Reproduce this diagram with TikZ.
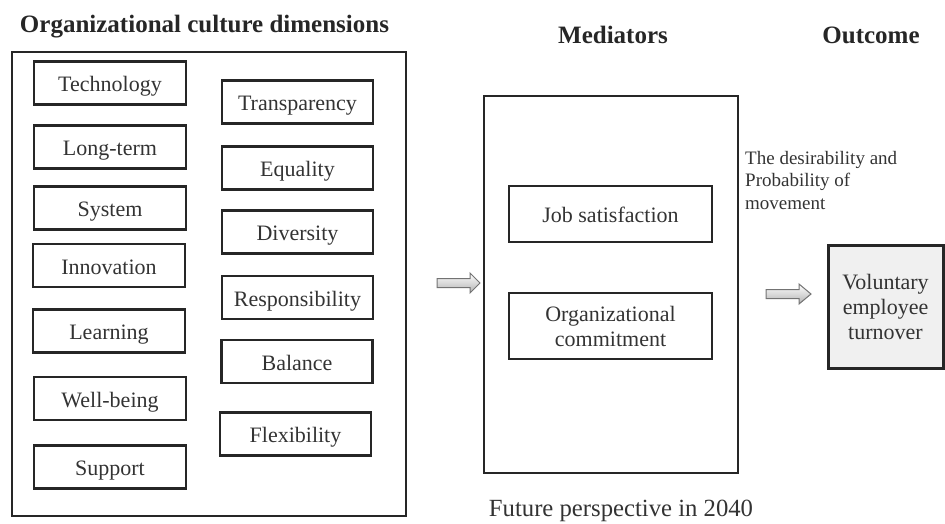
\documentclass[tikz,border=0pt]{standalone}
\usepackage{fontspec}
\setmainfont{Liberation Serif}
\begin{document}
\begin{tikzpicture}[x=1pt,y=-1pt,
  ink/.style={draw=black!85,line width=2.4pt},
  dimbox/.style={ink,rectangle,inner sep=0pt,text=black!80,
    font=\fontsize{22}{26}\selectfont,text height=19pt,text depth=2pt},
  twoline/.style={ink,rectangle,inner sep=0pt,text=black!80,align=center,
    font=\fontsize{22}{25}\selectfont},
  leftbox/.style={dimbox,minimum width=152pt,minimum height=43pt},
  rightbox/.style={dimbox,minimum width=151pt,minimum height=43pt},
  heading/.style={font=\fontsize{25}{28}\selectfont\bfseries,text=black!85,inner sep=0pt},
  note/.style={text=black!80,inner sep=0pt},
  blockarrow/.style={draw=black!55,line width=1pt,top color=white,bottom color=black!30}
]
\useasboundingbox (0,0) rectangle (945,523);

% headings
\node[heading] (hdim) at (204.5,27) {Organizational culture dimensions};
\node[heading] (hmed) at (613,35) {Mediators};
\node[heading] (hout) at (871,35) {Outcome};

% culture dimensions frame
\node[ink,rectangle,minimum width=394pt,minimum height=464pt,inner sep=0pt] (frame) at (209,284) {};

% left column
\node[leftbox] (tech)  at (110,83)    {Technology};
\node[leftbox] (long)  at (110,147)   {Long-term};
\node[leftbox] (sys)   at (110,208)   {System};
\node[leftbox] (innov) at (109,265.5) {Innovation};
\node[leftbox] (learn) at (109,331)   {Learning};
\node[leftbox] (well)  at (110,398.5) {Well-being};
\node[leftbox] (supp)  at (110,467)   {Support};

% right column
\node[rightbox] (trans) at (297.5,102)   {Transparency};
\node[rightbox] (equal) at (297.5,168)   {Equality};
\node[rightbox] (div)   at (297.5,232)   {Diversity};
\node[rightbox] (resp)  at (297.5,297.5) {Responsibility};
\node[rightbox] (bal)   at (297,361.5)   {Balance};
\node[rightbox] (flex)  at (295.5,434)   {Flexibility};

% mediators frame
\node[ink,rectangle,minimum width=254pt,minimum height=377pt,inner sep=0pt] (medframe) at (611,284.5) {};
\node[dimbox,minimum width=203pt,minimum height=56pt] (job) at (610.5,214) {Job satisfaction};
\node[twoline,minimum width=203pt,minimum height=66pt] (commit) at (610.5,326) {Organizational\\commitment};

% outcome
\node[twoline,line width=3pt,fill=black!6,
  minimum width=115pt,minimum height=123pt] (turn) at (885.5,306.5) {Voluntary\\employee\\turnover};

\node[note,anchor=north west,align=left,font=\fontsize{19}{22.5}\selectfont] (desir) at (745,151)
  {The desirability and\\Probability of\\movement};

\node[note,font=\fontsize{24.7}{28}\selectfont] (future) at (621,511) {Future perspective in 2040};

% block arrows between the stages
\coordinate (t1) at (480,283);
\path[blockarrow] (437,278.5) -- (470,278.5) -- (470,273) -- (t1) -- (470,293) -- (470,287.5) -- (437,287.5) -- cycle;
\coordinate (t2) at (811,294);
\path[blockarrow] (766,289.5) -- (799,289.5) -- (799,284) -- (t2) -- (799,304) -- (799,298.5) -- (766,298.5) -- cycle;
\end{tikzpicture}
\end{document}
